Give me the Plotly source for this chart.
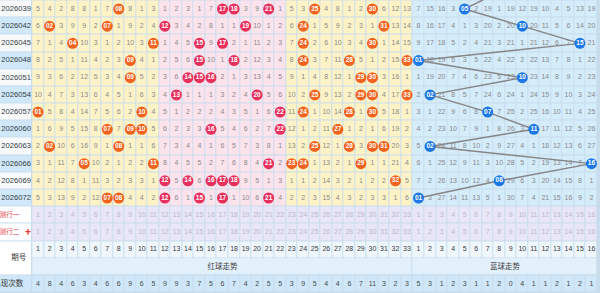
import plotly.graph_objects as go
import numpy as np

# ---------------- data ----------------
periods = ["2026039", "2026042", "2026045", "2026048", "2026051", "2026054",
           "2026057", "2026060", "2026063", "2026066", "2026069", "2026072"]

# omission values per red number 1..33 (0 = drawn in that period)
red_omit = [
    [5,4,2,8,8,1,7,0,8,1, 3,1,2,3,1,7,0,0,3,9,0,1, 5,3,0,4,8,1,2,0,6,12,13],
    [6,0,3,9,9,2,0,1,9,2, 4,0,3,4,2,8,1,1,0,10,1,2, 6,0,1,5,9,2,3,1,0,13,14],
    [7,1,4,0,10,3,1,2,10,3, 0,1,4,5,0,9,0,2,1,11,2,3, 7,0,2,6,10,3,4,0,1,14,15],
    [8,2,5,1,11,4,2,3,0,4, 1,2,5,6,0,10,1,0,2,12,3,4, 8,0,3,7,11,0,5,1,2,15,0],
    [9,3,6,2,12,5,3,4,0,5, 2,3,6,0,0,0,2,1,3,13,4,5, 9,1,4,8,12,1,0,0,3,16,1],
    [10,4,7,3,13,6,4,5,1,6, 3,4,0,1,1,1,3,2,4,0,5,6, 10,2,0,9,13,2,0,0,4,17,0],
    [0,5,8,4,14,7,5,6,2,0, 4,5,1,2,2,2,4,3,5,1,6,0, 11,0,1,10,14,0,1,0,5,18,1],
    [1,6,9,5,15,8,0,7,0,0, 5,6,2,3,3,0,5,4,6,2,7,0, 12,1,2,11,0,1,2,1,6,19,2],
    [2,0,10,6,16,9,1,0,1,1, 6,7,3,4,4,1,6,5,7,3,8,1, 13,2,0,12,1,0,3,0,0,20,3],
    [3,1,11,7,0,10,2,1,2,2, 0,8,4,5,5,2,7,6,8,4,0,2, 0,0,1,13,2,1,0,1,1,21,4],
    [4,2,12,8,1,11,3,2,3,3, 1,0,5,0,6,0,0,0,9,5,1,3, 1,1,2,14,3,2,1,2,2,0,5],
    [5,3,13,9,2,12,0,0,4,4, 2,0,6,1,0,1,0,1,10,6,0,4, 2,2,3,15,4,3,2,3,3,1,6],
]

# omission values per blue number 1..16 (0 = drawn)
blue_omit = [
    [7,15,16,3,0,2,19,1,19,12,19,10,4,5,13,19],
    [8,16,17,4,1,3,20,2,20,0,20,11,5,6,14,20],
    [9,17,18,5,2,4,21,3,21,1,21,12,6,7,0,21],
    [0,18,19,6,3,5,22,4,22,2,22,13,7,8,1,22],
    [1,19,20,7,4,6,23,5,23,0,23,14,8,9,2,23],
    [2,0,21,8,5,7,24,6,24,1,24,15,9,10,3,24],
    [3,1,22,9,6,8,0,7,25,2,25,16,10,11,4,25],
    [4,2,23,10,7,9,1,8,26,3,0,17,11,12,5,26],
    [5,0,24,11,8,10,2,9,27,4,1,18,12,13,6,27],
    [6,1,25,12,9,11,3,10,28,5,2,19,13,14,7,0],
    [7,2,26,13,10,12,4,0,29,6,3,20,14,15,8,1],
    [0,3,27,14,11,13,5,1,30,7,4,21,15,16,9,2],
]

red_counts = [4,8,4,6,3,4,6,6,9,6,5,9,9,3,7,5,6,7,4,2,5,5,3,9,5,4,4,6,7,11,3,2,3]
blue_counts = [5,3,1,2,3,1,1,2,0,4,1,1,2,1,2,1]

red_labels = [str(i) for i in range(1, 34)]
blue_labels = [str(i) for i in range(1, 17)]
row_labels = ["预测行一", "预测行二"]
header_label = "期号"
count_label = "出现次数"
red_title = "红球走势"
blue_title = "蓝球走势"

# ---------------- layout helpers ----------------
NR, NB = len(red_labels), len(blue_labels)
NC = NR + NB
nrows = len(periods)
R_P1, R_P2, R_HDR, R_TTL, R_CNT = nrows, nrows + 1, nrows + 2, nrows + 3, nrows + 4

FONT = "Liberation Sans, Noto Sans CJK SC, sans-serif"
GRID = "#c9dcec"

palette = ["#f7f9fb",  # 0 period light
           "#d0e8f9",  # 1 period blue
           "#fdf3c6",  # 2 yellow zone
           "#fce3ec",  # 3 pink zone
           "#d5ecfb",  # 4 blue zone
           "#e9e6f7",  # 5 predict rows
           "#eff7fd",  # 6 header number row
           "#cfe7f8",  # 7 count row
           "#ffffff",  # 8 white label
           "#e3f1fc"]  # 9 title row
K = len(palette)
cscale = []
for i, c in enumerate(palette):
    lo = max(0.0, (i - 0.5) / (K - 1))
    hi = min(1.0, (i + 0.5) / (K - 1))
    cscale += [[lo, c], [hi, c]]


def zone(c):  # c is 1-based column index
    if c > NR:
        return 4
    if c <= 11 or c >= 23:
        return 2
    return 3


z_main = []
for r in range(R_CNT + 1):
    row = []
    for c in range(1, NC + 1):
        if r < nrows:
            row.append(zone(c))
        elif r in (R_P1, R_P2):
            row.append(5)
        elif r == R_HDR:
            row.append(6)
        elif r == R_TTL:
            row.append(None)
        else:
            row.append(7)
    z_main.append(row)

x_edges = np.arange(0.5, NC + 1, 1.0)
y_edges = np.arange(-0.5, R_CNT + 1, 1.0)

fig = go.Figure()
hm = dict(colorscale=cscale, zmin=0, zmax=K - 1, showscale=False,
          xgap=1, ygap=1, hoverinfo="skip")
fig.add_trace(go.Heatmap(z=z_main, x=x_edges, y=y_edges, **hm))

# title row (merged cells)
fig.add_trace(go.Heatmap(z=[[9, 9]], x=[0.5, NR + 0.5, NC + 0.5],
                         y=[R_TTL - 0.5, R_TTL + 0.5], **hm))

# period column
PX0 = -2.3
pz = [[i % 2] for i in range(nrows)] + [[8], [8], [8], [7]]
py = list(np.arange(-0.5, R_HDR, 1.0)) + [R_TTL + 0.5, R_CNT + 0.5]
fig.add_trace(go.Heatmap(z=pz, x=[PX0, 0.5], y=py, **hm))

# ---------------- text ----------------
tx, ty, tt = [], [], []
for r in range(nrows):
    for c, v in enumerate(red_omit[r] + blue_omit[r], start=1):
        if v != 0:
            tx.append(c); ty.append(r); tt.append(str(v))
fig.add_trace(go.Scatter(x=tx, y=ty, text=tt, mode="text",
                         textfont=dict(size=7, color="#8a8a8a", family=FONT),
                         hoverinfo="skip"))

all_labels = red_labels + blue_labels
cols = list(range(1, NC + 1))
for r, colr in ((R_P1, "#bdb9cf"), (R_P2, "#bdb9cf"), (R_HDR, "#3a3a3a")):
    fig.add_trace(go.Scatter(x=cols, y=[r] * NC, text=all_labels, mode="text",
                             textfont=dict(size=7, color=colr, family=FONT),
                             hoverinfo="skip"))
fig.add_trace(go.Scatter(x=cols, y=[R_CNT] * NC,
                         text=[str(v) for v in red_counts + blue_counts], mode="text",
                         textfont=dict(size=7, color="#4a4a4a", family=FONT),
                         hoverinfo="skip"))

# period labels
fig.add_trace(go.Scatter(x=[(PX0 + 0.5) / 2] * nrows, y=list(range(nrows)), text=periods,
                         mode="text", textfont=dict(size=7.6, color="#333a44", family=FONT),
                         hoverinfo="skip"))

# row labels
fig.add_trace(go.Scatter(x=[-0.62, -0.62], y=[R_P1, R_P2], text=row_labels, mode="text",
                         textposition="middle left",
                         textfont=dict(size=6.6, color="#e53935", family=FONT),
                         hoverinfo="skip"))
fig.add_trace(go.Scatter(x=[-0.68], y=[(R_HDR + R_TTL) / 2], text=[header_label], mode="text",
                         textfont=dict(size=7.5, color="#333333", family=FONT),
                         hoverinfo="skip"))
fig.add_trace(go.Scatter(x=[-0.28], y=[R_CNT], text=[count_label], mode="text",
                         textposition="middle left",
                         textfont=dict(size=7.5, color="#333333", family=FONT),
                         hoverinfo="skip"))
fig.add_trace(go.Scatter(x=[(NR + 1) / 2, NR + (NB + 1) / 2], y=[R_TTL, R_TTL],
                         text=[red_title, blue_title], mode="text",
                         textfont=dict(size=7.5, color="#444444", family=FONT),
                         hoverinfo="skip"))
fig.add_trace(go.Scatter(x=[0.13], y=[R_P2], text=["✚"], mode="text",
                         textfont=dict(size=6, color="#e53935", family=FONT),
                         hoverinfo="skip"))

# ---------------- blue trend line ----------------
lx, ly = [], []
prev = [i for i, v in enumerate(blue_omit[0]) if v == 1]
if prev:
    lx.append(NR + prev[0] + 1); ly.append(-1)
for r in range(nrows):
    b = blue_omit[r].index(0)
    lx.append(NR + b + 1); ly.append(r)
fig.add_trace(go.Scatter(x=lx, y=ly, mode="lines", line=dict(color="#858585", width=1.4),
                         hoverinfo="skip", cliponaxis=True))

# ---------------- balls ----------------
bx, by, bt, bc = [], [], [], []
for r in range(nrows):
    for c, v in enumerate(red_omit[r], start=1):
        if v == 0:
            bx.append(c); by.append(r); bt.append(f"{c:02d}")
            bc.append("#e8305c" if zone(c) == 3 else "#f3621e")
    for c, v in enumerate(blue_omit[r], start=1):
        if v == 0:
            bx.append(NR + c); by.append(r); bt.append(f"{c:02d}")
            bc.append("#1b78e6")
fig.add_trace(go.Scatter(x=bx, y=by, text=bt, mode="markers+text",
                         marker=dict(size=11, color=bc, line=dict(width=0)),
                         textposition="middle center",
                         textfont=dict(size=6.5, color="white", family=FONT, weight="bold"),
                         hoverinfo="skip"))

fig.update_layout(
    width=600, height=293, margin=dict(l=0, r=0, t=0, b=0),
    paper_bgcolor="white", plot_bgcolor=GRID, showlegend=False,
    xaxis=dict(range=[PX0, 49.74], visible=False, fixedrange=True),
    yaxis=dict(range=[16.53, -0.524], visible=False, fixedrange=True),
)
fig.write_html("out.html")
